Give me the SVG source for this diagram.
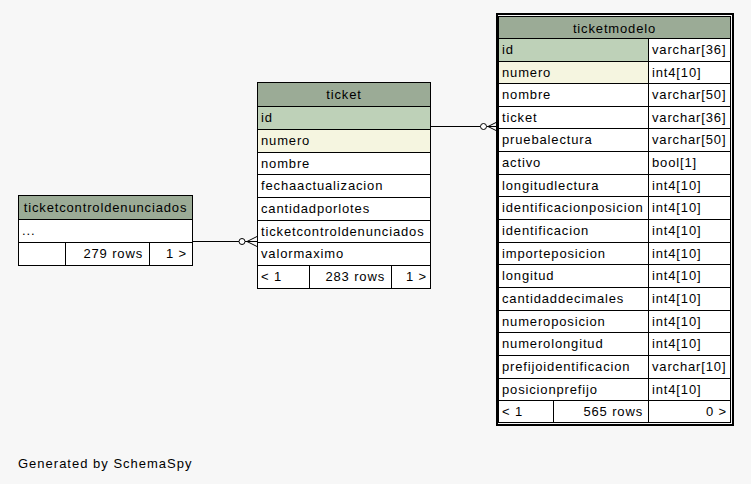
<svg xmlns="http://www.w3.org/2000/svg" width="751" height="484" viewBox="0 0 751 484">
  <style>
    text { font-family: "Liberation Sans", Arial, sans-serif; font-size: 13px; fill: #000; letter-spacing: 0.85px; }
    .c { text-anchor: middle; }
    .r { text-anchor: end; }
    .hd { fill: #9bab96; stroke: #000; stroke-width: 1; }
    .pk { fill: #bed1b8; stroke: #000; stroke-width: 1; }
    .ix { fill: #f5f5e0; stroke: #000; stroke-width: 1; }
    .cell { fill: #ffffff; stroke: #000; stroke-width: 1; }
    .ln { stroke: #000; stroke-width: 1; fill: none; }
    .frame { fill: none; stroke: #000; stroke-width: 2; }
    .edge { stroke: #000; stroke-width: 1; fill: none; }
    .dot { fill: #ffffff; stroke: #000; stroke-width: 1; }
  </style>
  <rect x="0" y="0" width="751" height="484" fill="#f7f7f7"/>

  <!-- table: ticketcontroldenunciados -->
  <g id="ticketcontroldenunciados">
    <rect class="hd" x="18.5" y="195.5" width="174" height="24"/>
    <text class="c" x="105.5" y="212">ticketcontroldenunciados</text>
    <rect class="cell" x="18.5" y="219.5" width="174" height="23"/>
    <text x="22" y="235">...</text>
    <rect class="cell" x="18.5" y="242.5" width="174" height="23"/>
    <path class="ln" d="M65.5 242.5 V265.5 M149.5 242.5 V265.5"/>
    <text class="r" x="143" y="258">279 rows</text>
    <text class="r" x="187" y="258">1 &gt;</text>
  </g>

  <!-- table: ticket -->
  <g id="ticket">
    <rect class="hd" x="257.5" y="82.5" width="173" height="24"/>
    <text class="c" x="344" y="99">ticket</text>
    <rect class="pk" x="257.5" y="106.5" width="173" height="23"/>
    <text x="261" y="122">id</text>
    <rect class="ix" x="257.5" y="129.5" width="173" height="23"/>
    <text x="261" y="145">numero</text>
    <rect class="cell" x="257.5" y="152.5" width="173" height="22"/>
    <text x="261" y="167.5">nombre</text>
    <rect class="cell" x="257.5" y="174.5" width="173" height="23"/>
    <text x="261" y="190">fechaactualizacion</text>
    <rect class="cell" x="257.5" y="197.5" width="173" height="23"/>
    <text x="261" y="213">cantidadporlotes</text>
    <rect class="cell" x="257.5" y="220.5" width="173" height="22"/>
    <text x="261" y="235.5">ticketcontroldenunciados</text>
    <rect class="cell" x="257.5" y="242.5" width="173" height="23"/>
    <text x="261" y="258">valormaximo</text>
    <rect class="cell" x="257.5" y="265.5" width="173" height="23"/>
    <path class="ln" d="M309.5 265.5 V288.5 M391.5 265.5 V288.5"/>
    <text x="261" y="281">&lt; 1</text>
    <text class="r" x="385" y="281">283 rows</text>
    <text class="r" x="427" y="281">1 &gt;</text>
  </g>

  <!-- table: ticketmodelo (focused, framed) -->
  <g id="ticketmodelo">
    <rect class="hd" x="498.5" y="16.5" width="232" height="22"/>
    <text class="c" x="614.5" y="33">ticketmodelo</text>

    <rect class="pk" x="498.5" y="38.5" width="150" height="23"/>
    <rect class="cell" x="648.5" y="38.5" width="82" height="23"/>
    <text x="502" y="54">id</text><text x="652" y="54">varchar[36]</text>

    <rect class="ix" x="498.5" y="61.5" width="150" height="22"/>
    <rect class="cell" x="648.5" y="61.5" width="82" height="22"/>
    <text x="502" y="76.5">numero</text><text x="652" y="76.5">int4[10]</text>

    <rect class="cell" x="498.5" y="83.5" width="150" height="23"/>
    <rect class="cell" x="648.5" y="83.5" width="82" height="23"/>
    <text x="502" y="99">nombre</text><text x="652" y="99">varchar[50]</text>

    <rect class="cell" x="498.5" y="106.5" width="150" height="22"/>
    <rect class="cell" x="648.5" y="106.5" width="82" height="22"/>
    <text x="502" y="121.5">ticket</text><text x="652" y="121.5">varchar[36]</text>

    <rect class="cell" x="498.5" y="128.5" width="150" height="23"/>
    <rect class="cell" x="648.5" y="128.5" width="82" height="23"/>
    <text x="502" y="144">pruebalectura</text><text x="652" y="144">varchar[50]</text>

    <rect class="cell" x="498.5" y="151.5" width="150" height="23"/>
    <rect class="cell" x="648.5" y="151.5" width="82" height="23"/>
    <text x="502" y="167">activo</text><text x="652" y="167">bool[1]</text>

    <rect class="cell" x="498.5" y="174.5" width="150" height="22"/>
    <rect class="cell" x="648.5" y="174.5" width="82" height="22"/>
    <text x="502" y="189.5">longitudlectura</text><text x="652" y="189.5">int4[10]</text>

    <rect class="cell" x="498.5" y="196.5" width="150" height="23"/>
    <rect class="cell" x="648.5" y="196.5" width="82" height="23"/>
    <text x="502" y="212">identificacionposicion</text><text x="652" y="212">int4[10]</text>

    <rect class="cell" x="498.5" y="219.5" width="150" height="23"/>
    <rect class="cell" x="648.5" y="219.5" width="82" height="23"/>
    <text x="502" y="235">identificacion</text><text x="652" y="235">int4[10]</text>

    <rect class="cell" x="498.5" y="242.5" width="150" height="22"/>
    <rect class="cell" x="648.5" y="242.5" width="82" height="22"/>
    <text x="502" y="257.5">importeposicion</text><text x="652" y="257.5">int4[10]</text>

    <rect class="cell" x="498.5" y="264.5" width="150" height="23"/>
    <rect class="cell" x="648.5" y="264.5" width="82" height="23"/>
    <text x="502" y="280">longitud</text><text x="652" y="280">int4[10]</text>

    <rect class="cell" x="498.5" y="287.5" width="150" height="23"/>
    <rect class="cell" x="648.5" y="287.5" width="82" height="23"/>
    <text x="502" y="303">cantidaddecimales</text><text x="652" y="303">int4[10]</text>

    <rect class="cell" x="498.5" y="310.5" width="150" height="22"/>
    <rect class="cell" x="648.5" y="310.5" width="82" height="22"/>
    <text x="502" y="325.5">numeroposicion</text><text x="652" y="325.5">int4[10]</text>

    <rect class="cell" x="498.5" y="332.5" width="150" height="23"/>
    <rect class="cell" x="648.5" y="332.5" width="82" height="23"/>
    <text x="502" y="348">numerolongitud</text><text x="652" y="348">int4[10]</text>

    <rect class="cell" x="498.5" y="355.5" width="150" height="23"/>
    <rect class="cell" x="648.5" y="355.5" width="82" height="23"/>
    <text x="502" y="371">prefijoidentificacion</text><text x="652" y="371">varchar[10]</text>

    <rect class="cell" x="498.5" y="378.5" width="150" height="22"/>
    <rect class="cell" x="648.5" y="378.5" width="82" height="22"/>
    <text x="502" y="393.5">posicionprefijo</text><text x="652" y="393.5">int4[10]</text>

    <rect class="cell" x="498.5" y="400.5" width="232" height="22"/>
    <path class="ln" d="M553.5 400.5 V422.5 M648.5 400.5 V422.5"/>
    <text x="502" y="416">&lt; 1</text>
    <text class="r" x="643" y="416">565 rows</text>
    <text class="r" x="727" y="416">0 &gt;</text>

    <rect class="frame" x="497" y="14" width="236" height="411"/>
  </g>

  <!-- relationships -->
  <g id="connectors">
    <path class="edge" d="M192.5 241.5 H239 M245 241.5 H257 M247 241.5 L257 236.5 M247 241.5 L257 246.5"/>
    <circle class="dot" cx="242" cy="241.5" r="3"/>
    <path class="edge" d="M430.5 126.5 H480.5 M486.5 126.5 H497 M488 126.5 L497 122 M488 126.5 L497 131"/>
    <circle class="dot" cx="483.5" cy="126.5" r="3"/>
  </g>

  <text x="18" y="468" style="letter-spacing:1px">Generated by SchemaSpy</text>
</svg>
